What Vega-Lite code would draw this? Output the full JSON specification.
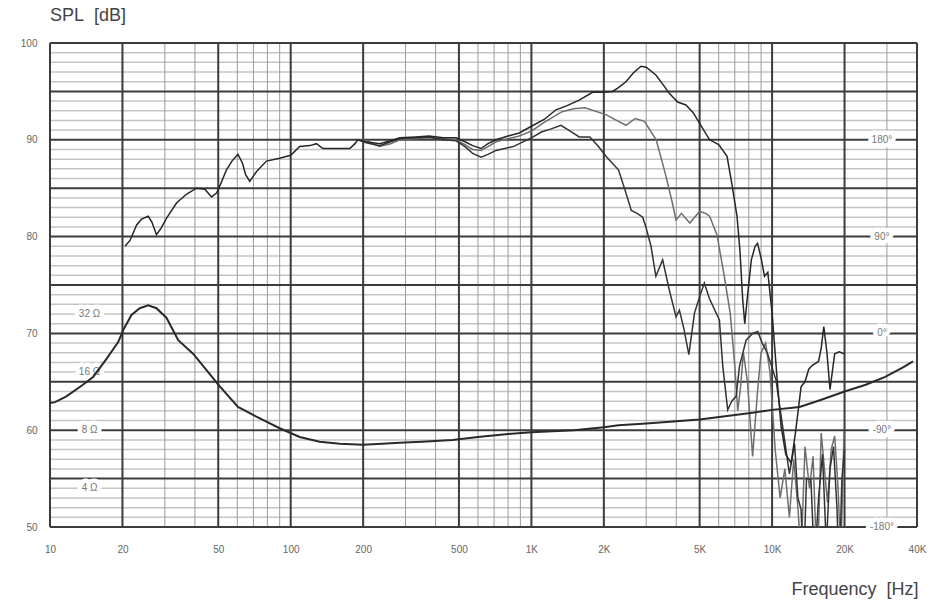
{
  "$schema": "https://vega.github.io/schema/vega-lite/v6.json",
  "description": "Loudspeaker frequency response (SPL) and impedance curves.",
  "width": 867,
  "height": 484,
  "autosize": {"type": "none"},
  "padding": {"left": 50, "top": 43, "right": 34, "bottom": 88},
  "background": "white",
  "config": {
    "view": {"stroke": null},
    "font": "Liberation Sans"
  },
  "title": {
    "text": "SPL\u00a0\u00a0[dB]",
    "anchor": "start",
    "frame": "group",
    "fontSize": 18,
    "fontWeight": "normal",
    "color": "#444",
    "baseline": "alphabetic",
    "offset": -1
  },
  "datasets": {
    "vmajor": [
      {"f": 10}, {"f": 20}, {"f": 50}, {"f": 100}, {"f": 200}, {"f": 500},
      {"f": 1000}, {"f": 2000}, {"f": 5000}, {"f": 10000}, {"f": 20000}, {"f": 40000}
    ],
    "vminor": [
      {"f": 30}, {"f": 40}, {"f": 60}, {"f": 70}, {"f": 80}, {"f": 90},
      {"f": 300}, {"f": 400}, {"f": 600}, {"f": 700}, {"f": 800}, {"f": 900},
      {"f": 3000}, {"f": 4000}, {"f": 6000}, {"f": 7000}, {"f": 8000}, {"f": 9000},
      {"f": 30000}
    ],
    "hmajor": [
      {"db": 50}, {"db": 55}, {"db": 60}, {"db": 65}, {"db": 70}, {"db": 75},
      {"db": 80}, {"db": 85}, {"db": 90}, {"db": 95}, {"db": 100}
    ],
    "hminor": [
      {"db": 51}, {"db": 52}, {"db": 53}, {"db": 54}, {"db": 56}, {"db": 57}, {"db": 58}, {"db": 59},
      {"db": 61}, {"db": 62}, {"db": 63}, {"db": 64}, {"db": 66}, {"db": 67}, {"db": 68}, {"db": 69},
      {"db": 71}, {"db": 72}, {"db": 73}, {"db": 74}, {"db": 76}, {"db": 77}, {"db": 78}, {"db": 79},
      {"db": 81}, {"db": 82}, {"db": 83}, {"db": 84}, {"db": 86}, {"db": 87}, {"db": 88}, {"db": 89},
      {"db": 91}, {"db": 92}, {"db": 93}, {"db": 94}, {"db": 96}, {"db": 97}, {"db": 98}, {"db": 99}
    ],
    "labels": [
      {"f": 14.6, "db": 72, "label": "32 Ω"},
      {"f": 14.6, "db": 66, "label": "16 Ω"},
      {"f": 14.6, "db": 60, "label": "8 Ω"},
      {"f": 14.6, "db": 54, "label": "4 Ω"},
      {"f": 28600, "db": 90, "label": "180°"},
      {"f": 28600, "db": 80, "label": "90°"},
      {"f": 28600, "db": 70, "label": "0°"},
      {"f": 28600, "db": 60, "label": "-90°"},
      {"f": 28600, "db": 50, "label": "-180°"}
    ],
    "spl": [
      {"curve": "30°", "f": 190, "db": 90.0}, {"curve": "30°", "f": 206, "db": 89.9}, {"curve": "30°", "f": 234, "db": 89.3},
      {"curve": "30°", "f": 260, "db": 89.6}, {"curve": "30°", "f": 284, "db": 90.0}, {"curve": "30°", "f": 330, "db": 90.1},
      {"curve": "30°", "f": 376, "db": 90.2}, {"curve": "30°", "f": 430, "db": 90.1}, {"curve": "30°", "f": 487, "db": 90.0},
      {"curve": "30°", "f": 530, "db": 89.5}, {"curve": "30°", "f": 570, "db": 89.0}, {"curve": "30°", "f": 618, "db": 88.9},
      {"curve": "30°", "f": 660, "db": 89.3}, {"curve": "30°", "f": 713, "db": 89.8}, {"curve": "30°", "f": 800, "db": 90.1},
      {"curve": "30°", "f": 890, "db": 90.4}, {"curve": "30°", "f": 1000, "db": 90.9}, {"curve": "30°", "f": 1130, "db": 91.8},
      {"curve": "30°", "f": 1340, "db": 92.9}, {"curve": "30°", "f": 1500, "db": 93.2}, {"curve": "30°", "f": 1670, "db": 93.3},
      {"curve": "30°", "f": 2040, "db": 92.6}, {"curve": "30°", "f": 2300, "db": 91.9}, {"curve": "30°", "f": 2470, "db": 91.5},
      {"curve": "30°", "f": 2700, "db": 92.2}, {"curve": "30°", "f": 2950, "db": 91.9}, {"curve": "30°", "f": 3300, "db": 90.0},
      {"curve": "30°", "f": 3600, "db": 86.5}, {"curve": "30°", "f": 3850, "db": 83.5}, {"curve": "30°", "f": 3990, "db": 81.7},
      {"curve": "30°", "f": 4200, "db": 82.4}, {"curve": "30°", "f": 4550, "db": 81.4}, {"curve": "30°", "f": 5000, "db": 82.6},
      {"curve": "30°", "f": 5300, "db": 82.4}, {"curve": "30°", "f": 5500, "db": 82.1}, {"curve": "30°", "f": 5900, "db": 80.2},
      {"curve": "30°", "f": 6300, "db": 76.2}, {"curve": "30°", "f": 6700, "db": 72.1}, {"curve": "30°", "f": 7000, "db": 66.6},
      {"curve": "30°", "f": 7200, "db": 62.0}, {"curve": "30°", "f": 7400, "db": 64.5}, {"curve": "30°", "f": 7600, "db": 68.0},
      {"curve": "30°", "f": 7900, "db": 65.0}, {"curve": "30°", "f": 8300, "db": 57.3}, {"curve": "30°", "f": 8700, "db": 64.0},
      {"curve": "30°", "f": 9000, "db": 68.0}, {"curve": "30°", "f": 9400, "db": 69.0}, {"curve": "30°", "f": 9800, "db": 66.0},
      {"curve": "30°", "f": 10300, "db": 58.0}, {"curve": "30°", "f": 10800, "db": 53.0}, {"curve": "30°", "f": 11300, "db": 56.0},
      {"curve": "30°", "f": 11800, "db": 51.0}, {"curve": "30°", "f": 12300, "db": 57.0}, {"curve": "30°", "f": 12800, "db": 52.0},
      {"curve": "30°", "f": 13200, "db": 47.0}, {"curve": "30°", "f": 13700, "db": 58.3}, {"curve": "30°", "f": 14300, "db": 54.0},
      {"curve": "30°", "f": 14800, "db": 57.3}, {"curve": "30°", "f": 15400, "db": 45.0}, {"curve": "30°", "f": 16000, "db": 59.7},
      {"curve": "30°", "f": 16500, "db": 56.0}, {"curve": "30°", "f": 17000, "db": 52.5}, {"curve": "30°", "f": 17600, "db": 58.0},
      {"curve": "30°", "f": 18200, "db": 59.4}, {"curve": "30°", "f": 18800, "db": 54.0}, {"curve": "30°", "f": 19300, "db": 47.0},
      {"curve": "30°", "f": 19900, "db": 59.7},

      {"curve": "60°", "f": 190, "db": 90.0}, {"curve": "60°", "f": 206, "db": 89.7}, {"curve": "60°", "f": 234, "db": 89.4},
      {"curve": "60°", "f": 260, "db": 89.8}, {"curve": "60°", "f": 284, "db": 90.1}, {"curve": "60°", "f": 330, "db": 90.2},
      {"curve": "60°", "f": 376, "db": 90.3}, {"curve": "60°", "f": 430, "db": 90.0}, {"curve": "60°", "f": 487, "db": 89.9},
      {"curve": "60°", "f": 530, "db": 89.3}, {"curve": "60°", "f": 570, "db": 88.6}, {"curve": "60°", "f": 618, "db": 88.2},
      {"curve": "60°", "f": 660, "db": 88.5}, {"curve": "60°", "f": 713, "db": 88.9}, {"curve": "60°", "f": 840, "db": 89.3},
      {"curve": "60°", "f": 1000, "db": 90.2}, {"curve": "60°", "f": 1100, "db": 90.8}, {"curve": "60°", "f": 1200, "db": 91.1},
      {"curve": "60°", "f": 1327, "db": 91.5}, {"curve": "60°", "f": 1450, "db": 90.9}, {"curve": "60°", "f": 1580, "db": 90.3},
      {"curve": "60°", "f": 1750, "db": 90.3}, {"curve": "60°", "f": 1900, "db": 89.3}, {"curve": "60°", "f": 2040, "db": 88.3},
      {"curve": "60°", "f": 2300, "db": 86.9}, {"curve": "60°", "f": 2450, "db": 84.8}, {"curve": "60°", "f": 2600, "db": 82.7},
      {"curve": "60°", "f": 2750, "db": 82.4}, {"curve": "60°", "f": 2900, "db": 82.0}, {"curve": "60°", "f": 2990, "db": 81.0},
      {"curve": "60°", "f": 3140, "db": 79.0}, {"curve": "60°", "f": 3290, "db": 75.9}, {"curve": "60°", "f": 3510, "db": 77.6},
      {"curve": "60°", "f": 3740, "db": 74.5}, {"curve": "60°", "f": 3990, "db": 71.7}, {"curve": "60°", "f": 4120, "db": 72.4},
      {"curve": "60°", "f": 4300, "db": 70.5}, {"curve": "60°", "f": 4510, "db": 67.8}, {"curve": "60°", "f": 4760, "db": 72.1},
      {"curve": "60°", "f": 5000, "db": 73.8}, {"curve": "60°", "f": 5230, "db": 75.2}, {"curve": "60°", "f": 5490, "db": 73.6},
      {"curve": "60°", "f": 6040, "db": 71.4}, {"curve": "60°", "f": 6240, "db": 66.6}, {"curve": "60°", "f": 6540, "db": 62.1},
      {"curve": "60°", "f": 6800, "db": 63.0}, {"curve": "60°", "f": 7090, "db": 63.5}, {"curve": "60°", "f": 7320, "db": 66.6},
      {"curve": "60°", "f": 7800, "db": 69.3}, {"curve": "60°", "f": 8300, "db": 70.0}, {"curve": "60°", "f": 8720, "db": 70.2},
      {"curve": "60°", "f": 9100, "db": 69.0}, {"curve": "60°", "f": 9580, "db": 67.9}, {"curve": "60°", "f": 10380, "db": 65.2},
      {"curve": "60°", "f": 11060, "db": 60.4}, {"curve": "60°", "f": 11800, "db": 55.5}, {"curve": "60°", "f": 12400, "db": 58.6},
      {"curve": "60°", "f": 12800, "db": 53.0}, {"curve": "60°", "f": 13200, "db": 51.8}, {"curve": "60°", "f": 13500, "db": 45.0},
      {"curve": "60°", "f": 13900, "db": 55.0}, {"curve": "60°", "f": 14500, "db": 54.9}, {"curve": "60°", "f": 15000, "db": 46.0},
      {"curve": "60°", "f": 15600, "db": 53.0}, {"curve": "60°", "f": 16200, "db": 57.5}, {"curve": "60°", "f": 16800, "db": 48.0},
      {"curve": "60°", "f": 17400, "db": 56.0}, {"curve": "60°", "f": 18000, "db": 58.3}, {"curve": "60°", "f": 18600, "db": 52.0},
      {"curve": "60°", "f": 19000, "db": 45.0}, {"curve": "60°", "f": 19500, "db": 55.0}, {"curve": "60°", "f": 20000, "db": 58.0},

      {"curve": "0°", "f": 20.5, "db": 79.0}, {"curve": "0°", "f": 21.5, "db": 79.6}, {"curve": "0°", "f": 22.9, "db": 81.2},
      {"curve": "0°", "f": 24, "db": 81.8}, {"curve": "0°", "f": 25.6, "db": 82.1}, {"curve": "0°", "f": 26.5, "db": 81.5},
      {"curve": "0°", "f": 27.7, "db": 80.2}, {"curve": "0°", "f": 29, "db": 80.9}, {"curve": "0°", "f": 30.5, "db": 81.9},
      {"curve": "0°", "f": 33.6, "db": 83.5}, {"curve": "0°", "f": 37, "db": 84.4}, {"curve": "0°", "f": 40.6, "db": 85.0},
      {"curve": "0°", "f": 44, "db": 84.9}, {"curve": "0°", "f": 46.9, "db": 84.1}, {"curve": "0°", "f": 49.2, "db": 84.5},
      {"curve": "0°", "f": 51.5, "db": 85.6}, {"curve": "0°", "f": 54.1, "db": 86.9}, {"curve": "0°", "f": 57, "db": 87.8},
      {"curve": "0°", "f": 60.4, "db": 88.5}, {"curve": "0°", "f": 63, "db": 87.6}, {"curve": "0°", "f": 65, "db": 86.4},
      {"curve": "0°", "f": 67.6, "db": 85.7}, {"curve": "0°", "f": 72, "db": 86.7}, {"curve": "0°", "f": 79.3, "db": 87.8},
      {"curve": "0°", "f": 90, "db": 88.1}, {"curve": "0°", "f": 100, "db": 88.4}, {"curve": "0°", "f": 109, "db": 89.3},
      {"curve": "0°", "f": 120, "db": 89.4}, {"curve": "0°", "f": 128, "db": 89.6}, {"curve": "0°", "f": 136, "db": 89.1},
      {"curve": "0°", "f": 150, "db": 89.1}, {"curve": "0°", "f": 176, "db": 89.1}, {"curve": "0°", "f": 185, "db": 89.6},
      {"curve": "0°", "f": 190, "db": 90.0}, {"curve": "0°", "f": 206, "db": 89.8}, {"curve": "0°", "f": 234, "db": 89.6},
      {"curve": "0°", "f": 260, "db": 89.9}, {"curve": "0°", "f": 284, "db": 90.2}, {"curve": "0°", "f": 330, "db": 90.3},
      {"curve": "0°", "f": 376, "db": 90.4}, {"curve": "0°", "f": 430, "db": 90.2}, {"curve": "0°", "f": 487, "db": 90.2},
      {"curve": "0°", "f": 530, "db": 89.8}, {"curve": "0°", "f": 570, "db": 89.4}, {"curve": "0°", "f": 618, "db": 89.1},
      {"curve": "0°", "f": 660, "db": 89.6}, {"curve": "0°", "f": 713, "db": 90.0}, {"curve": "0°", "f": 800, "db": 90.4},
      {"curve": "0°", "f": 890, "db": 90.7}, {"curve": "0°", "f": 1000, "db": 91.4}, {"curve": "0°", "f": 1130, "db": 92.1},
      {"curve": "0°", "f": 1265, "db": 93.1}, {"curve": "0°", "f": 1400, "db": 93.5}, {"curve": "0°", "f": 1580, "db": 94.1},
      {"curve": "0°", "f": 1795, "db": 94.9}, {"curve": "0°", "f": 2000, "db": 94.9}, {"curve": "0°", "f": 2173, "db": 95.0},
      {"curve": "0°", "f": 2300, "db": 95.4}, {"curve": "0°", "f": 2470, "db": 96.0}, {"curve": "0°", "f": 2650, "db": 96.9},
      {"curve": "0°", "f": 2853, "db": 97.6}, {"curve": "0°", "f": 3000, "db": 97.5}, {"curve": "0°", "f": 3289, "db": 96.7},
      {"curve": "0°", "f": 3500, "db": 95.8}, {"curve": "0°", "f": 3740, "db": 94.8}, {"curve": "0°", "f": 4050, "db": 93.9},
      {"curve": "0°", "f": 4385, "db": 93.6}, {"curve": "0°", "f": 4700, "db": 92.8}, {"curve": "0°", "f": 5000, "db": 91.7},
      {"curve": "0°", "f": 5500, "db": 90.0}, {"curve": "0°", "f": 6000, "db": 89.5}, {"curve": "0°", "f": 6500, "db": 88.3},
      {"curve": "0°", "f": 6800, "db": 85.5}, {"curve": "0°", "f": 7150, "db": 82.1}, {"curve": "0°", "f": 7350, "db": 78.6},
      {"curve": "0°", "f": 7550, "db": 73.5}, {"curve": "0°", "f": 7700, "db": 71.0}, {"curve": "0°", "f": 7950, "db": 74.5},
      {"curve": "0°", "f": 8200, "db": 77.6}, {"curve": "0°", "f": 8500, "db": 79.0}, {"curve": "0°", "f": 8700, "db": 79.3},
      {"curve": "0°", "f": 9000, "db": 77.8}, {"curve": "0°", "f": 9300, "db": 75.9}, {"curve": "0°", "f": 9600, "db": 76.3},
      {"curve": "0°", "f": 10000, "db": 72.1}, {"curve": "0°", "f": 10500, "db": 65.2}, {"curve": "0°", "f": 10900, "db": 60.4},
      {"curve": "0°", "f": 11400, "db": 57.5}, {"curve": "0°", "f": 12000, "db": 56.6}, {"curve": "0°", "f": 12500, "db": 59.7},
      {"curve": "0°", "f": 13200, "db": 64.5}, {"curve": "0°", "f": 13700, "db": 65.0}, {"curve": "0°", "f": 14200, "db": 66.3},
      {"curve": "0°", "f": 14700, "db": 66.7}, {"curve": "0°", "f": 15600, "db": 67.1}, {"curve": "0°", "f": 16000, "db": 68.5},
      {"curve": "0°", "f": 16400, "db": 70.7}, {"curve": "0°", "f": 16900, "db": 68.0}, {"curve": "0°", "f": 17400, "db": 64.2},
      {"curve": "0°", "f": 18200, "db": 67.9}, {"curve": "0°", "f": 19000, "db": 68.1}, {"curve": "0°", "f": 19900, "db": 67.9}
    ],
    "impedance": [
      {"f": 10, "db": 62.8}, {"f": 10.5, "db": 62.9}, {"f": 11.7, "db": 63.5}, {"f": 13.7, "db": 64.7},
      {"f": 15.1, "db": 65.5}, {"f": 17.2, "db": 67.4}, {"f": 19.2, "db": 69.1}, {"f": 20.2, "db": 70.4},
      {"f": 21.8, "db": 71.9}, {"f": 23.6, "db": 72.6}, {"f": 25.6, "db": 72.9}, {"f": 27.7, "db": 72.6},
      {"f": 30.5, "db": 71.6}, {"f": 34.1, "db": 69.3}, {"f": 39.3, "db": 67.9}, {"f": 44.7, "db": 66.2},
      {"f": 50, "db": 64.7}, {"f": 60.4, "db": 62.4}, {"f": 72, "db": 61.4}, {"f": 90, "db": 60.2},
      {"f": 109, "db": 59.3}, {"f": 132, "db": 58.8}, {"f": 160, "db": 58.6}, {"f": 199, "db": 58.5},
      {"f": 240, "db": 58.6}, {"f": 284, "db": 58.7}, {"f": 350, "db": 58.8}, {"f": 470, "db": 59.0},
      {"f": 600, "db": 59.3}, {"f": 800, "db": 59.6}, {"f": 1000, "db": 59.8}, {"f": 1500, "db": 60.0},
      {"f": 2000, "db": 60.3}, {"f": 2300, "db": 60.5}, {"f": 3000, "db": 60.7}, {"f": 5000, "db": 61.1},
      {"f": 8300, "db": 61.8}, {"f": 10000, "db": 62.1}, {"f": 13000, "db": 62.4}, {"f": 15800, "db": 63.1},
      {"f": 20000, "db": 64.0}, {"f": 24500, "db": 64.7}, {"f": 29500, "db": 65.5}, {"f": 35000, "db": 66.5},
      {"f": 38500, "db": 67.1}
    ]
  },
  "layer": [
    {
      "data": {"name": "hminor"},
      "mark": {"type": "rule", "color": "#c4c4c4", "strokeWidth": 1.5},
      "encoding": {
        "y": {"field": "db", "type": "quantitative", "scale": {"domain": [50, 100], "nice": false, "zero": false}}
      }
    },
    {
      "data": {"name": "vminor"},
      "mark": {"type": "rule", "color": "#9a9a9a", "strokeWidth": 1},
      "encoding": {
        "x": {"field": "f", "type": "quantitative", "scale": {"type": "log", "domain": [10, 40000], "nice": false}}
      }
    },
    {
      "data": {"name": "hmajor"},
      "mark": {"type": "rule", "color": "#3c3c3c", "strokeWidth": 2},
      "encoding": {
        "y": {"field": "db", "type": "quantitative", "scale": {"domain": [50, 100], "nice": false, "zero": false}}
      }
    },
    {
      "data": {"name": "vmajor"},
      "mark": {"type": "rule", "color": "#3c3c3c", "strokeWidth": 2},
      "encoding": {
        "x": {"field": "f", "type": "quantitative", "scale": {"type": "log", "domain": [10, 40000], "nice": false}}
      }
    },
    {
      "data": {"name": "labels"},
      "mark": {"type": "text", "fontSize": 10, "color": "white", "stroke": "white", "strokeWidth": 9, "strokeJoin": "round", "align": "center", "baseline": "middle"},
      "encoding": {
        "x": {"field": "f", "type": "quantitative", "scale": {"type": "log", "domain": [10, 40000], "nice": false}},
        "y": {"field": "db", "type": "quantitative", "scale": {"domain": [50, 100], "nice": false, "zero": false}},
        "text": {"field": "label"}
      }
    },
    {
      "data": {"name": "labels"},
      "mark": {"type": "text", "fontSize": 10, "color": "#777", "align": "center", "baseline": "middle"},
      "encoding": {
        "x": {"field": "f", "type": "quantitative", "scale": {"type": "log", "domain": [10, 40000], "nice": false}},
        "y": {"field": "db", "type": "quantitative", "scale": {"domain": [50, 100], "nice": false, "zero": false}},
        "text": {"field": "label"}
      }
    },
    {
      "data": {"name": "spl"},
      "mark": {"type": "line", "strokeWidth": 1.5, "clip": true, "interpolate": "linear"},
      "encoding": {
        "x": {
          "field": "f", "type": "quantitative",
          "scale": {"type": "log", "domain": [10, 40000], "nice": false},
          "axis": {
            "values": [10, 20, 50, 100, 200, 500, 1000, 2000, 5000, 10000, 20000, 40000],
            "labelExpr": "datum.value >= 1000 ? (datum.value / 1000) + 'K' : datum.value",
            "domain": false, "ticks": false, "grid": false,
            "labelFlush": false, "labelOverlap": false, "labelBound": false,
            "labelPadding": 17, "labelFontSize": 10, "labelColor": "#666",
            "title": "Frequency\u00a0\u00a0[Hz]",
            "titleFontSize": 18, "titleFontWeight": "normal", "titleColor": "#444",
            "titleX": 868, "titleY": 67, "titleAlign": "right", "titleBaseline": "alphabetic"
          }
        },
        "y": {
          "field": "db", "type": "quantitative",
          "scale": {"domain": [50, 100], "nice": false, "zero": false},
          "axis": {
            "values": [50, 60, 70, 80, 90, 100],
            "domain": false, "ticks": false, "grid": false,
            "labelFlush": false, "labelOverlap": false,
            "labelPadding": 13, "labelFontSize": 10, "labelColor": "#666",
            "title": ""
          }
        },
        "color": {
          "field": "curve", "type": "nominal",
          "scale": {"domain": ["0°", "30°", "60°"], "range": ["#262626", "#6e6e6e", "#333333"]},
          "legend": null
        },
        "order": {"field": "f", "type": "quantitative"}
      }
    },
    {
      "data": {"name": "impedance"},
      "mark": {"type": "line", "strokeWidth": 2, "color": "#2a2a2a", "clip": true},
      "encoding": {
        "x": {"field": "f", "type": "quantitative", "scale": {"type": "log", "domain": [10, 40000], "nice": false}},
        "y": {"field": "db", "type": "quantitative", "scale": {"domain": [50, 100], "nice": false, "zero": false}}
      }
    }
  ]
}
